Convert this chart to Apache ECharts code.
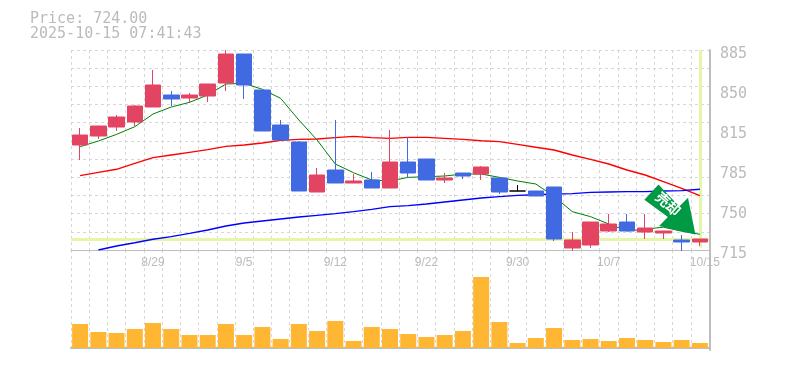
<!DOCTYPE html>
<html><head><meta charset="utf-8">
<style>html,body{margin:0;padding:0;background:#fff}#c{width:785px;height:370px}</style>
<script src="https://cdn.jsdelivr.net/npm/echarts@6/dist/echarts.min.js"></script>
</head><body><div id="c"></div>
<script>
const dates=['8/21','8/22','8/25','8/26','8/29','8/28','8/29b','9/1','9/2','9/5','9/4','9/5b','9/8','9/9','9/12','9/16','9/17','9/18','9/19','9/22','9/24','9/25','9/26','9/29','9/30','10/1','10/2','10/3','10/6','10/7','10/8','10/9','10/10','10/14','10/15'];
const shownLabels=[4,9,14,19,24,29,34];
const opens=[804.25,811.9,819.55,823.8,836.55,846.75,844.2,845.9,856.95,881.6,851,821.25,806.8,764.3,783,771.95,774.5,767.7,789.8,792.35,774.5,780.45,779.6,776.2,765.15,765.15,768.55,716.7,719.25,731.15,738.8,730.3,729.45,723.5,721.8];
const closes=[812.75,820.4,828.05,837.4,855.25,843.35,846.75,856.1,881.6,855.25,816.15,808.5,765.15,778.75,771.95,773.65,767.7,789.8,780.45,774.5,776.2,777.9,785.55,764.3,765.15,760.9,724.35,723.5,738.8,737.1,731.15,733.7,731.15,721.8,724.35];
const lows=[791.5,809.35,816.15,820.4,836.55,837.4,839.95,840.8,850.15,843.35,816.15,808.5,765.15,764.3,771.95,771.95,767.7,767.7,776.2,774.5,771.95,775.35,774.5,762.6,765.15,760.9,722.65,714.2,716.7,730.3,731.15,724.35,724.35,714.2,718.4];
const highs=[818.7,820.4,829.75,838.25,868,850.15,848.45,856.1,885,881.6,851,825.5,807.65,784.7,825.5,779.6,781.3,817,811,792.35,780.45,780.45,786.4,776.2,770.25,765.15,768.55,730.3,738.8,745.6,745.6,745.6,731.15,727.75,724.35];
const ma5=[802.8,807.65,813.3,819.8,830.6,836.55,840.5,846.75,856.1,856.65,851.55,843.9,825.5,808.5,788.1,780.7,774.5,773.65,776.75,777.3,777.9,779.6,779.6,776.75,773.65,771.1,760.5,747.6,743.35,737.1,731.2,732.7,734.4,731,728.4];
const ma25=[778.2,781,783.6,788.7,793.5,795.75,798,800.3,803.1,804.25,805.95,808.2,809.05,809.35,810.5,811.6,810.5,809.9,810.75,810.75,809.9,809.05,807.9,807.1,804.8,802.3,800,795.75,792.05,788.1,783,778.75,773.1,767.4,761.2];
const ma75=[null,715,718.4,721.2,724.1,726.35,729.15,732,735.4,737.95,739.65,741.35,743.05,744.45,745.9,747.6,749.55,751.85,752.7,754.1,755.8,757.5,759.2,760.35,761.45,762,762.6,762.9,764,764.3,764.6,764.6,765.15,765.45,766.6];
const volumes=[24,16,15,19,25,19,13,13,24,13,21,9,24,17,27,7,21,19,14,11,13,17,71,26,5,10,20,8,9,7,10,8,6,8,5];
const lastPrice=724;
const stamp='2025-10-15 07:41:43';
const signalText='売却';
const RED='#e24462',BLUE='#4169e1',GRID='#d8d8d8',EDGE='#bdbdbd',TXT='#bbbbbb',HL='#e5f6a8';
const MONO='"DejaVu Sans Mono",monospace';
const dashed={show:true,lineStyle:{color:GRID,type:[3,3],width:1}};
const arrow='path://M42 0 L104 66 L130 40 L152 150 L44 125 L70 98 L0 46 Z';
const ln=(name,data,color,width,z)=>({name,type:'line',data,symbol:'none',xAxisIndex:0,yAxisIndex:0,z,lineStyle:{color,width},itemStyle:{color},animation:false,connectNulls:false,clip:true});
const chart=echarts.init(document.getElementById('c'),null,{renderer:'canvas'});
chart.setOption({
 animation:false,backgroundColor:'#fff',
 title:[{text:'Price: '+lastPrice.toFixed(2),left:30,top:12,padding:0,textStyle:{fontFamily:MONO,fontSize:15,fontWeight:'normal',color:TXT}},
        {text:stamp,left:30,top:27,padding:0,textStyle:{fontFamily:MONO,fontSize:15,fontWeight:'normal',color:TXT}}],
 grid:[{left:71,top:50,width:638,height:200},{left:71,top:250,width:638,height:100}],
 xAxis:[
  {type:'category',gridIndex:0,data:dates,boundaryGap:true,
   axisLine:{show:true,lineStyle:{color:EDGE,width:1}},axisTick:{show:false},
   axisLabel:{interval:(i)=>shownLabels.includes(i),
    formatter:(v,i)=>i===dates.length-1?'{last|'+v+'}':v.replace('b',''),
    rich:{last:{padding:[0,0,0,10],color:TXT,fontFamily:'"Liberation Sans"',fontSize:12}},
    color:TXT,fontFamily:'"Liberation Sans"',fontSize:12,margin:7,hideOverlap:false,showMaxLabel:true},
   splitLine:{...dashed,interval:0}},
  {type:'category',gridIndex:1,data:dates,boundaryGap:true,
   axisLine:{show:true,lineStyle:{color:EDGE,width:2}},axisTick:{show:false},axisLabel:{show:false},
   splitLine:{...dashed,interval:0}}
 ],
 yAxis:[
  {type:'value',gridIndex:0,position:'right',offset:1,min:715,max:885,interval:34,
   axisLine:{show:true,lineStyle:{color:EDGE,width:2}},axisTick:{show:false},splitLine:{show:false},
   axisLabel:{color:TXT,fontFamily:MONO,fontSize:15,margin:10,verticalAlign:'top',lineHeight:8,formatter:(v)=>String(Math.round(v/5)*5)}},
  {type:'value',gridIndex:0,position:'right',min:0,max:11,interval:1,axisLine:{show:false},axisTick:{show:false},axisLabel:{show:false},splitLine:dashed},
  {type:'value',gridIndex:1,position:'right',offset:1,min:-2,max:98,axisLine:{show:true,lineStyle:{color:EDGE,width:2}},axisTick:{show:false},axisLabel:{show:false},splitLine:{show:false}}
 ],
 series:[
  {name:'hl',type:'line',data:[],xAxisIndex:0,yAxisIndex:0,z:1,symbol:'none',
   markLine:{z:1,silent:true,symbol:'none',label:{show:false},animation:false,lineStyle:{color:HL,width:3,type:'solid'},
    data:[{yAxis:lastPrice},[{coord:[dates[34],885]},{coord:[dates[34],717]}]]}},
  ln('MA25',ma25,'#ff0000',1.4,3),
  ln('MA75',ma75,'#0000ff',1.4,3),
  ln('MA5',ma5,'#008000',1,3),
  {name:'Price',type:'candlestick',xAxisIndex:0,yAxisIndex:0,z:4,barWidth:16,clip:false,
   data:dates.map((d,i)=>[opens[i],closes[i],lows[i],highs[i]]),
   itemStyle:{color:RED,color0:BLUE,borderColor:RED,borderColor0:BLUE,borderColorDoji:'#000',borderWidth:1},
   markPoint:{silent:true,animation:false,z:9,data:[{coord:[dates[34],724],symbol:arrow,symbolSize:[51,50],symbolKeepAspect:false,symbolOffset:[-30,-30],
     itemStyle:{color:'#009944'},
     label:{show:true,formatter:signalText,rotate:-42,color:'#fff',fontSize:14,fontWeight:'bold',fontFamily:'"Noto Sans CJK JP"',position:'inside',offset:[-5,-3]}}]}},
  {name:'Volume',type:'bar',xAxisIndex:1,yAxisIndex:2,data:volumes,barWidth:16,z:3,itemStyle:{color:'#ffb733'}}
 ]
});
</script></body></html>
